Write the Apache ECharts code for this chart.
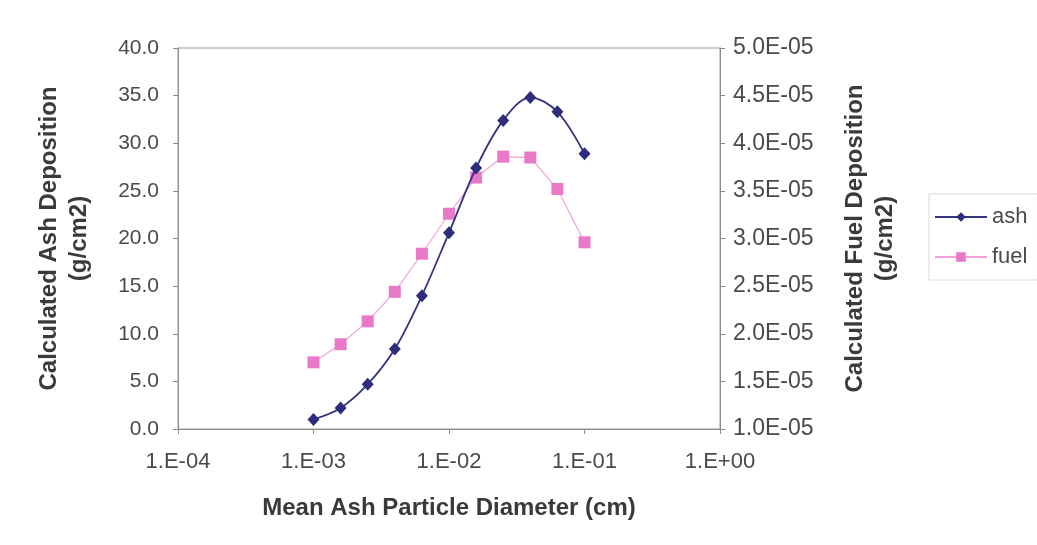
<!DOCTYPE html>
<html>
<head>
<meta charset="utf-8">
<script src="https://cdn.jsdelivr.net/npm/echarts@6/dist/echarts.min.js"></script>
<style>
  html, body { margin: 0; padding: 0; background: #ffffff; }
  #chart { width: 1037px; height: 545px; }
</style>
</head>
<body>
<div id="chart"></div>
<script>
// Mean ash particle diameter (cm), log-spaced
const diameters = [1.0e-3, 1.585e-3, 2.512e-3, 3.981e-3, 6.310e-3, 1.0e-2, 1.585e-2, 2.512e-2, 3.981e-2, 6.310e-2, 1.0e-1];
// Calculated ash deposition (g/cm2), left axis
const ashDeposition = [1.0, 2.2, 4.7, 8.4, 14.0, 20.6, 27.4, 32.4, 34.8, 33.3, 28.9];
// Calculated fuel deposition (g/cm2), right axis
const fuelDeposition = [1.70e-5, 1.89e-5, 2.13e-5, 2.44e-5, 2.84e-5, 3.26e-5, 3.64e-5, 3.86e-5, 3.85e-5, 3.52e-5, 2.96e-5];

const seriesNames = ['ash', 'fuel'];
const xTitle = 'Mean Ash Particle Diameter (cm)';
const yLeftTitle = 'Calculated Ash Deposition\n(g/cm2)';
const yRightTitle = 'Calculated Fuel Deposition\n(g/cm2)';

const FONT = '"Liberation Sans", Arial, sans-serif';
const pad2 = n => (n < 10 ? '0' : '') + n;
const sciLabel = (v, digits) => {
  const e = Math.floor(Math.log10(v) + 1e-9);
  const m = v / Math.pow(10, e);
  const mant = digits === 0 ? String(Math.round(m)) + '.' : m.toFixed(digits);
  return mant + 'E' + (e < 0 ? '-' : '+') + pad2(Math.abs(e));
};

const labelStyle = size => ({ color: '#4a4a4a', fontSize: size, fontFamily: FONT });
const axisNameStyle = { color: '#3a3a3a', fontSize: 24, fontWeight: 'bold', fontFamily: FONT, lineHeight: 30 };
const axisLineStyle = { show: true, lineStyle: { color: '#8c8c8c', width: 1 } };
const tickStyle = { show: true, length: 5, lineStyle: { color: '#8c8c8c' } };

const chart = echarts.init(document.getElementById('chart'), null, { renderer: 'canvas' });
chart.setOption({
  backgroundColor: '#ffffff',
  animation: false,
  grid: {
    left: 178, right: 317, top: 48, bottom: 116,
    show: true, borderColor: '#9a9a9a', borderWidth: 1, backgroundColor: 'transparent'
  },
  legend: {
    orient: 'vertical',
    left: 929, top: 194,
    data: seriesNames,
    itemWidth: 52, itemHeight: 12, itemGap: 18,
    padding: [12, 10, 12, 5],
    borderColor: '#dadada', borderWidth: 1,
    textStyle: labelStyle(22)
  },
  xAxis: {
    type: 'log', logBase: 10, min: 1e-4, max: 1,
    name: xTitle, nameLocation: 'middle', nameGap: 64, nameTextStyle: axisNameStyle,
    axisLine: axisLineStyle,
    axisTick: tickStyle,
    axisLabel: Object.assign({ margin: 22, formatter: v => sciLabel(v, 0) }, labelStyle(22)),
    splitLine: { show: false }
  },
  yAxis: [
    {
      type: 'value', min: 0, max: 40, interval: 5, position: 'left',
      name: yLeftTitle, nameLocation: 'middle', nameGap: 84, nameTextStyle: axisNameStyle,
      axisLine: axisLineStyle,
      axisTick: tickStyle,
      axisLabel: Object.assign({ margin: 19, formatter: v => v.toFixed(1) }, labelStyle(21)),
      splitLine: { show: false }
    },
    {
      type: 'value', min: 1e-5, max: 5e-5, interval: 5e-6, position: 'right',
      name: yRightTitle, nameLocation: 'middle', nameGap: 120, nameTextStyle: axisNameStyle,
      axisLine: axisLineStyle,
      axisTick: tickStyle,
      axisLabel: Object.assign({ margin: 13, formatter: v => sciLabel(v, 1) }, labelStyle(23)),
      splitLine: { show: false }
    }
  ],
  series: [
    {
      name: seriesNames[0], type: 'line', yAxisIndex: 0,
      data: diameters.map((d, i) => [d, ashDeposition[i]]),
      smooth: 0.35,
      symbol: 'diamond', symbolSize: [12, 13],
      lineStyle: { color: '#34347e', width: 1.8 },
      itemStyle: { color: '#2d2d7c' },
      z: 3
    },
    {
      name: seriesNames[1], type: 'line', yAxisIndex: 1,
      data: diameters.map((d, i) => [d, fuelDeposition[i]]),
      symbol: 'rect', symbolSize: 12,
      lineStyle: { color: '#f0a0d8', width: 1.2 },
      itemStyle: { color: '#ea78c9' },
      z: 2
    }
  ]
});
</script>
</body>
</html>
